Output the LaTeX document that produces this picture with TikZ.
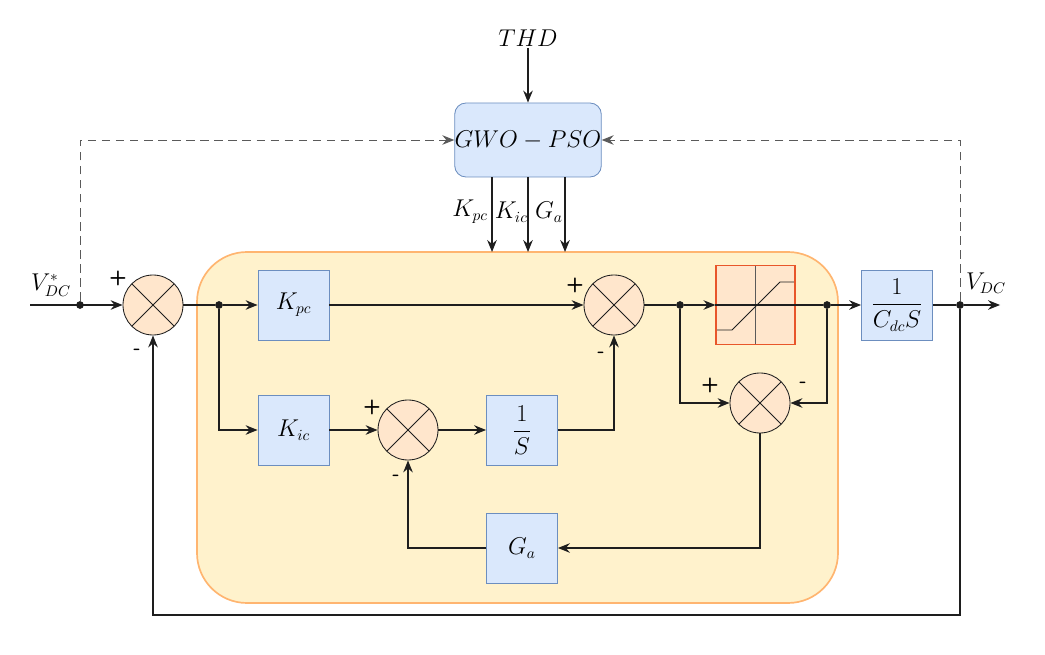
\documentclass[tikz,border=0pt]{standalone}
\usepackage{xcolor}
\usepackage{amsmath}
\usepackage{tikz}
\usetikzlibrary{arrows.meta, positioning, calc}
\definecolor{mydark}{RGB}{30,30,30}
\definecolor{mygray}{RGB}{90,90,90}
\definecolor{blufill}{RGB}{218,232,252}
\definecolor{bluedge}{RGB}{108,142,191}
\definecolor{pifill}{RGB}{255,242,204}
\definecolor{piedge}{RGB}{255,181,112}
\definecolor{sumfill}{RGB}{255,230,204}
\definecolor{satedge}{RGB}{232,86,42}
\tikzset{
  gainbox/.style={rectangle, draw=bluedge, fill=blufill, minimum width=1.775cm,
    minimum height=1.75cm, inner sep=0pt, line width=0.6pt, font=\fontsize{16}{19}\selectfont},
  optbox/.style={rectangle, draw=bluedge, fill=blufill, minimum width=3.625cm,
    minimum height=1.85cm, inner sep=0pt, rounded corners=8pt, line width=0.6pt,
    font=\fontsize{16}{19}\selectfont},
  region/.style={rectangle, draw=piedge, fill=pifill, minimum width=16.025cm,
    minimum height=8.775cm, rounded corners=1.25cm, line width=1.2pt},
  sumnode/.style={circle, draw=mydark, fill=sumfill, minimum size=1.5cm, inner sep=0pt,
    line width=0.6pt,
    path picture={
      \draw[mydark, line width=0.6pt]
        ([shift={(45:0.75cm)}]path picture bounding box.center) --
        ([shift={(225:0.75cm)}]path picture bounding box.center)
        ([shift={(135:0.75cm)}]path picture bounding box.center) --
        ([shift={(-45:0.75cm)}]path picture bounding box.center);}},
  satbox/.style={rectangle, draw=satedge, fill=sumfill, minimum size=1.975cm, inner sep=0pt,
    line width=0.8pt,
    path picture={
      \draw[mygray, line width=0.6pt]
        ([yshift=1cm]path picture bounding box.center) --
        ([yshift=-1cm]path picture bounding box.center);
      \draw[mydark, line width=0.6pt]
        ([shift={(-0.99,-0.625)}]path picture bounding box.center) --
        ([shift={(-0.59,-0.625)}]path picture bounding box.center) --
        ([shift={(0.61,0.575)}]path picture bounding box.center) --
        ([shift={(0.99,0.575)}]path picture bounding box.center);}},
  sgn/.style={font=\sffamily\bfseries\Large, inner sep=0pt},
  lbl/.style={font=\fontsize{16}{19}\selectfont, inner sep=1pt},
  dot/.style={circle, fill=mydark, inner sep=0pt, minimum size=5.5pt},
  arrow/.style={-{Stealth[length=3mm, width=2.4mm, inset=1mm]}, line width=0.8pt, color=mydark},
  line/.style={line width=0.8pt, color=mydark},
  dasharrow/.style={-{Stealth[length=3mm, width=2.4mm, inset=1mm]}, line width=0.7pt,
    color=mygray, dash pattern=on 6pt off 4pt}
}

\begin{document}
\begin{tikzpicture}
  \useasboundingbox (0,0) rectangle (26.125,-16.375);

  % controller area
  \node[region] (pi) at (12.9375,-10.6875) {};

  % optimiser
  \node[lbl] (thd) at (13.2,-0.95) {$THD$};
  \node[optbox] (gwo) at (13.2,-3.5) {$GWO-PSO$};
  \coordinate (ta) at (12.3,-6.3);
  \coordinate (tb) at (13.2,-6.3);
  \coordinate (tc) at (14.125,-6.3);
  \node[lbl] (lkpc) at (11.75,-5.3) {$K_{pc}$};
  \node[lbl] (lkic) at (12.78,-5.3) {$K_{ic}$};
  \node[lbl] (lga) at (13.72,-5.3) {$G_a$};

  % blocks
  \node[sumnode] (s1) at (3.825,-7.625) {};
  \node[gainbox] (kpc) at (7.3375,-7.625) {$K_{pc}$};
  \node[gainbox] (kic) at (7.3375,-10.75) {$K_{ic}$};
  \node[sumnode] (s2) at (10.2,-10.75) {};
  \node[gainbox] (ints) at (13.05,-10.75) {$\dfrac{1}{S}$};
  \node[sumnode] (s3) at (15.35,-7.625) {};
  \node[satbox] (sat) at (18.8875,-7.625) {};
  \node[sumnode] (s4) at (19.0,-10.075) {};
  \node[gainbox] (ga) at (13.05,-13.7) {$G_a$};
  \node[gainbox] (cdc) at (22.425,-7.625) {$\dfrac{1}{C_{dc}S}$};

  % signs
  \node[sgn] (s1p) at ($(s1)+(-0.875,0.675)$) {+};
  \node[sgn] (s1m) at ($(s1)+(-0.4,-1.175)$) {-};
  \node[sgn] (s2p) at ($(s2)+(-0.9,0.575)$) {+};
  \node[sgn] (s2m) at ($(s2)+(-0.3,-1.2)$) {-};
  \node[sgn] (s3p) at ($(s3)+(-0.975,0.5)$) {+};
  \node[sgn] (s3m) at ($(s3)+(-0.325,-1.25)$) {-};
  \node[sgn] (s4p) at ($(s4)+(-1.25,0.45)$) {+};
  \node[sgn] (s4m) at ($(s4)+(1.075,0.45)$) {-};

  % junctions and ends
  \coordinate (in) at (0.75,-7.625);
  \coordinate (out) at (25.0,-7.625);
  \coordinate (fb) at (24.0,-15.375);
  \node[dot] (d0) at (2.0,-7.625) {};
  \node[dot] (d1) at (5.475,-7.625) {};
  \node[dot] (d2) at (17.0,-7.625) {};
  \node[dot] (d3) at (20.675,-7.625) {};
  \node[dot] (d4) at (24.0,-7.625) {};
  \node[lbl] (vref) at (1.275,-7.125) {$V_{DC}^{*}$};
  \node[lbl] (vdc) at (24.65,-7.075) {$V_{DC}$};

  % optimiser links
  \draw[arrow] (thd) -- (gwo);
  \draw[arrow] (gwo.south -| ta) -- (ta);
  \draw[arrow] (gwo.south -| tb) -- (tb);
  \draw[arrow] (gwo.south -| tc) -- (tc);
  \draw[dasharrow] (d0) |- (gwo.west);
  \draw[dasharrow] (d4) |- (gwo.east);

  % signal path
  \draw[arrow] (in) -- (s1);
  \draw[line] (s1) -- (d1);
  \draw[arrow] (d1) -- (kpc);
  \draw[arrow] (d1) |- (kic);
  \draw[arrow] (kic) -- (s2);
  \draw[arrow] (s2) -- (ints);
  \draw[arrow] (ints) -| (s3);
  \draw[arrow] (kpc) -- (s3);
  \draw[line] (s3) -- (d2);
  \draw[arrow] (d2) -- (sat);
  \draw[line] (sat.west) -- (sat.east) -- (d3);
  \draw[arrow] (d3) -- (cdc);
  \draw[line] (cdc) -- (d4);
  \draw[arrow] (d4) -- (out);

  % anti-windup loop
  \draw[arrow] (d2) |- (s4);
  \draw[arrow] (d3) |- (s4);
  \draw[arrow] (s4) |- (ga);
  \draw[arrow] (ga) -| (s2);

  % feedback
  \draw[arrow] (d4) -- (fb) -| (s1);

\end{tikzpicture}
\end{document}
